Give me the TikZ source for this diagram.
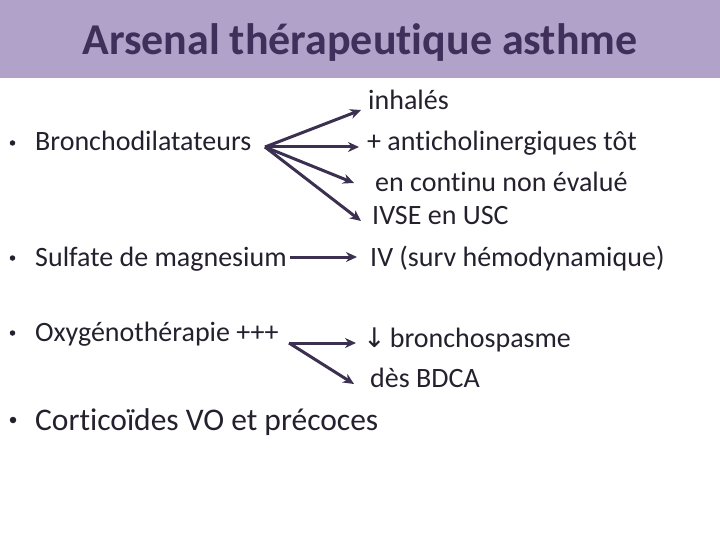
\documentclass[tikz,border=0pt]{standalone}
\usepackage{fontspec}
\setmainfont{Carlito}[Ligatures=NoCommon]
\newfontfamily\symfont{DejaVu Sans}
\usetikzlibrary{arrows.meta}
\definecolor{band}{HTML}{B0A2C8}
\definecolor{titlec}{HTML}{3F2F5A}
\definecolor{arr}{HTML}{3B3050}
\definecolor{txt}{HTML}{24202E}
\tikzset{
  lbl/.style={anchor=base west, inner sep=0pt, text=txt, font=\fontsize{28}{32}\selectfont},
  big/.style={anchor=base west, inner sep=0pt, text=txt, font=\fontsize{31.5}{36}\selectfont},
  bul/.style={circle, fill=txt, inner sep=0pt, minimum size=#1},
  conn/.style={draw=arr, line width=3pt, -{Stealth[length=11pt,width=10pt]}}
}
\begin{document}
\begin{tikzpicture}[x=1pt,y=-1pt]
\useasboundingbox (0,0) rectangle (720,540);
\fill[band] (0,0) rectangle (720,78);
\node[anchor=base, inner sep=0pt, text=titlec, font=\fontsize{44}{48}\selectfont\bfseries] (title) at (360,55) {Arsenal thérapeutique asthme};
% bullets
\node[bul=5.5pt] (u1) at (12.5,143) {};
\node[bul=5.5pt] (u2) at (12.5,258) {};
\node[bul=5.5pt] (u3) at (12.5,333) {};
\node[bul=6.5pt] (u4) at (13,420) {};
% left items
\node[lbl] (b1) at (35,151) {Bronchodilatateurs};
\node[lbl] (b2) at (35,266) {Sulfate de magnesium};
\node[lbl] (b3) at (35,341) {Oxygénothérapie +++};
\node[big] (b4) at (35,430) {Corticoïdes VO et précoces};
% right items
\node[lbl] (r1) at (368,110) {inhalés};
\node[lbl] (r2) at (367,151) {+ anticholinergiques tôt};
\node[lbl] (r3) at (375,192) {en continu non évalué};
\node[lbl] (r4) at (372,225) {IVSE en USC};
\node[lbl] (r5) at (370,266) {IV (surv hémodynamique)};
\node[lbl] (r6) at (363,347) {{\symfont\fontsize{27}{30}\selectfont ↓}\hspace{4pt}bronchospasme};
\node[lbl] (r7) at (370,387) {dès BDCA};
% connector points
\coordinate (o1) at (265,147);
\coordinate (t1) at (361,110);
\coordinate (t2) at (359,147);
\coordinate (t3) at (354,183);
\coordinate (t4) at (361,221);
\coordinate (o2) at (290,257);
\coordinate (t5) at (357,257);
\coordinate (o3) at (289,343);
\coordinate (t6) at (356,343);
\coordinate (t7) at (354,384);
\draw[conn] (o1) -- (t1);
\draw[conn] (o1) -- (t2);
\draw[conn] (o1) -- (t3);
\draw[conn] (o1) -- (t4);
\draw[conn] (o2) -- (t5);
\draw[conn] (o3) -- (t6);
\draw[conn] (o3) -- (t7);
\end{tikzpicture}
\end{document}
